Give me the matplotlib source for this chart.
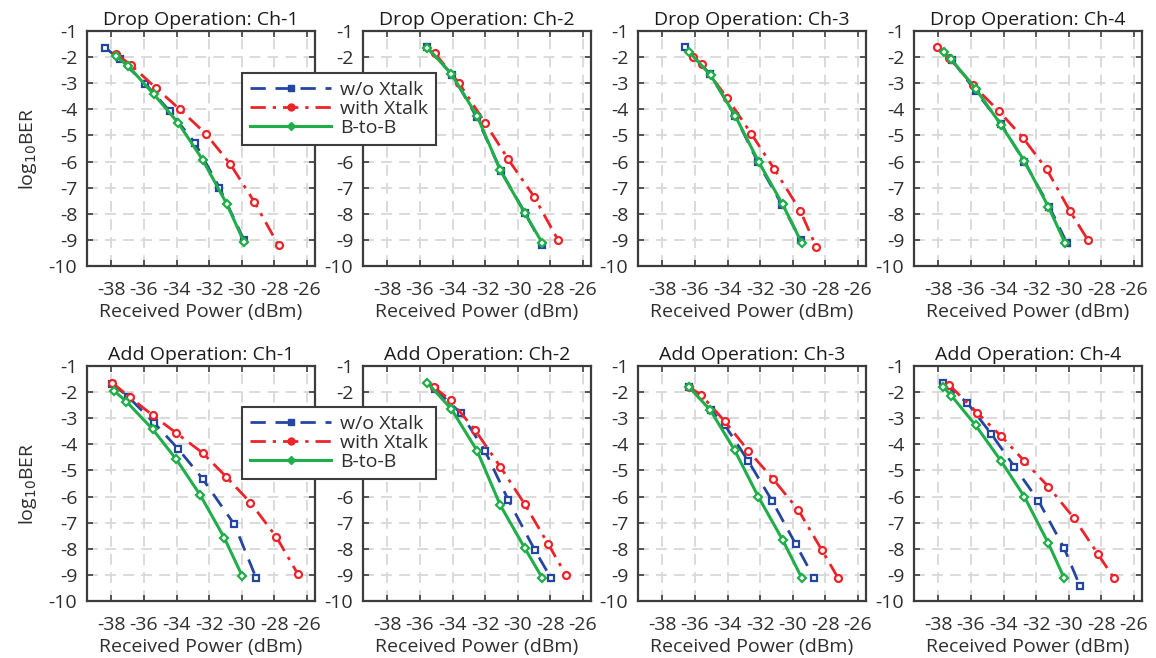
import matplotlib
matplotlib.use("Agg")
import matplotlib.pyplot as plt
from matplotlib.lines import Line2D

plt.rcParams['font.family'] = ['Open Sans', 'DejaVu Sans']
plt.rcParams['axes.unicode_minus'] = False

# ---------------- data (received power dBm, log10 BER) ----------------
# Drop Ch-1
d1_wo_x = [-38.37, -37.49, -35.91, -34.41, -32.87, -31.37, -29.86]
d1_wo_y = [-1.64, -2.09, -3.02, -4.08, -5.29, -7.00, -9.00]
d1_wx_x = [-37.73, -36.77, -35.29, -33.80, -32.22, -30.72, -29.24, -27.74]
d1_wx_y = [-1.87, -2.32, -3.17, -4.00, -4.93, -6.08, -7.53, -9.21]
d1_bb_x = [-37.73, -36.97, -35.39, -33.90, -32.40, -30.92, -29.86]
d1_bb_y = [-1.96, -2.34, -3.43, -4.52, -5.93, -7.62, -9.08]
# Drop Ch-2
d2_wo_x = [-35.60, -34.02, -32.53, -31.03, -29.54, -28.49]
d2_wo_y = [-1.62, -2.67, -4.29, -6.36, -7.98, -9.19]
d2_wx_x = [-35.09, -33.61, -32.00, -30.58, -29.00, -27.51]
d2_wx_y = [-1.85, -2.99, -4.52, -5.92, -7.34, -9.02]
d2_bb_x = [-35.54, -34.08, -32.49, -31.07, -29.56, -28.49]
d2_bb_y = [-1.64, -2.64, -4.26, -6.33, -7.98, -9.12]
# Drop Ch-3
d3_wo_x = [-36.62, -35.09, -33.53, -32.15, -30.66, -29.50]
d3_wo_y = [-1.62, -2.64, -4.26, -6.01, -7.66, -9.00]
d3_wx_x = [-36.15, -35.60, -34.04, -32.55, -31.13, -29.54, -28.55]
d3_wx_y = [-2.00, -2.25, -3.55, -4.93, -6.29, -7.88, -9.28]
d3_bb_x = [-36.35, -35.03, -33.53, -32.09, -30.62, -29.44]
d3_bb_y = [-1.81, -2.70, -4.25, -6.01, -7.64, -9.12]
# Drop Ch-4
d4_wo_x = [-37.19, -35.72, -34.14, -32.72, -31.19, -30.13]
d4_wo_y = [-2.10, -3.30, -4.57, -6.01, -7.73, -9.10]
d4_wx_x = [-38.06, -37.35, -35.87, -34.30, -32.82, -31.35, -29.93, -28.81]
d4_wx_y = [-1.62, -2.03, -3.08, -4.06, -5.08, -6.30, -7.89, -9.02]
d4_bb_x = [-37.65, -37.25, -35.72, -34.14, -32.72, -31.25, -30.24]
d4_bb_y = [-1.81, -2.06, -3.21, -4.61, -5.98, -7.73, -9.10]
# Add Ch-1
a1_wo_x = [-37.96, -36.98, -35.36, -33.91, -32.40, -30.45, -29.12]
a1_wo_y = [-1.68, -2.17, -3.19, -4.17, -5.32, -7.07, -9.11]
a1_wx_x = [-37.96, -36.88, -35.46, -34.01, -32.40, -30.94, -29.47, -27.88, -26.55]
a1_wx_y = [-1.64, -2.19, -2.89, -3.57, -4.33, -5.25, -6.23, -7.54, -8.97]
a1_bb_x = [-37.86, -37.08, -35.46, -34.01, -32.54, -31.07, -29.98]
a1_bb_y = [-1.94, -2.36, -3.43, -4.58, -5.95, -7.58, -9.03]
# Add Ch-2
a2_wo_x = [-35.09, -33.51, -32.00, -30.58, -28.96, -27.98]
a2_wo_y = [-1.87, -2.80, -4.26, -6.13, -8.04, -9.10]
a2_wx_x = [-35.15, -34.12, -32.61, -31.07, -29.56, -28.12, -27.02]
a2_wx_y = [-1.81, -2.32, -3.46, -4.86, -6.30, -7.83, -9.02]
a2_bb_x = [-35.56, -34.08, -32.49, -31.07, -29.56, -28.49]
a2_bb_y = [-1.64, -2.64, -4.25, -6.33, -7.98, -9.12]
# Add Ch-3
a3_wo_x = [-36.35, -35.03, -34.18, -32.72, -31.27, -29.81, -28.69]
a3_wo_y = [-1.81, -2.70, -3.25, -4.65, -6.16, -7.83, -9.12]
a3_wx_x = [-36.35, -35.64, -34.18, -32.72, -31.23, -29.65, -28.22, -27.23]
a3_wx_y = [-1.81, -2.10, -3.11, -4.25, -5.31, -6.52, -8.04, -9.10]
a3_bb_x = [-36.35, -35.05, -33.57, -32.11, -30.62, -29.44]
a3_bb_y = [-1.81, -2.70, -4.22, -6.01, -7.66, -9.12]
# Add Ch-4
a4_wo_x = [-37.70, -36.23, -34.77, -33.33, -31.86, -30.28, -29.32]
a4_wo_y = [-1.66, -2.41, -3.59, -4.86, -6.16, -7.98, -9.41]
a4_wx_x = [-37.35, -35.62, -34.14, -32.74, -31.25, -29.67, -28.20, -27.23]
a4_wx_y = [-1.72, -2.79, -3.69, -4.63, -5.62, -6.83, -8.21, -9.12]
a4_bb_x = [-37.70, -37.21, -35.72, -34.14, -32.72, -31.25, -30.28]
a4_bb_y = [-1.81, -2.13, -3.27, -4.65, -6.01, -7.79, -9.12]

titles = ["Drop Operation: Ch-1", "Drop Operation: Ch-2",
          "Drop Operation: Ch-3", "Drop Operation: Ch-4",
          "Add Operation: Ch-1", "Add Operation: Ch-2",
          "Add Operation: Ch-3", "Add Operation: Ch-4"]
series_names = ["w/o Xtalk", "with Xtalk", "B-to-B"]
xticks = [-38, -36, -34, -32, -30, -28, -26]
yticks = [-1, -2, -3, -4, -5, -6, -7, -8, -9, -10]

panels = [
    (d1_wo_x, d1_wo_y, d1_wx_x, d1_wx_y, d1_bb_x, d1_bb_y),
    (d2_wo_x, d2_wo_y, d2_wx_x, d2_wx_y, d2_bb_x, d2_bb_y),
    (d3_wo_x, d3_wo_y, d3_wx_x, d3_wx_y, d3_bb_x, d3_bb_y),
    (d4_wo_x, d4_wo_y, d4_wx_x, d4_wx_y, d4_bb_x, d4_bb_y),
    (a1_wo_x, a1_wo_y, a1_wx_x, a1_wx_y, a1_bb_x, a1_bb_y),
    (a2_wo_x, a2_wo_y, a2_wx_x, a2_wx_y, a2_bb_x, a2_bb_y),
    (a3_wo_x, a3_wo_y, a3_wx_x, a3_wx_y, a3_bb_x, a3_bb_y),
    (a4_wo_x, a4_wo_y, a4_wx_x, a4_wx_y, a4_bb_x, a4_bb_y),
]

# ---------------- styles ----------------
BLUE = "#2446a0"
RED = "#ee2229"
GREEN = "#1fae49"
SPINE = "#3c3c3c"
TXT = "#2e2e2e"
FS = 14

styles = [
    dict(color=BLUE, ls=(0, (5.5, 3.5)), lw=2.0, marker='s', ms=5, mfc='white', mew=1.6, mec=BLUE),
    dict(color=RED, ls=(0, (5.5, 2.5, 1.2, 2.5)), lw=2.0, marker='o', ms=5, mfc='white', mew=1.6, mec=RED),
    dict(color=GREEN, ls='-', lw=2.2, marker='D', ms=4.5, mfc='white', mew=1.6, mec=GREEN),
]

W, H = 1156, 658
fig = plt.figure(figsize=(W / 100, H / 100), dpi=100)

lefts = [87, 363, 638, 914]
tops = [31, 366]
aw, ah = 228, 235

for i, (title, data) in enumerate(zip(titles, panels)):
    r, c = divmod(i, 4)
    ax = fig.add_axes([lefts[c] / W, 1 - (tops[r] + ah) / H, aw / W, ah / H])
    for k in range(3):
        ax.plot(data[2 * k], data[2 * k + 1], label=series_names[k], **styles[k])
    ax.set_xlim(-39.5, -25.5)
    ax.set_ylim(-10, -1)
    ax.set_xticks(xticks)
    ax.set_yticks(yticks)
    ax.set_xticklabels([str(v) for v in xticks])
    ax.set_yticklabels([str(v) for v in yticks])
    ax.grid(True, color="#d8d8d8", ls=(0, (6, 4)), lw=1.3)
    ax.set_axisbelow(True)
    ax.tick_params(direction='in', top=True, right=True, length=4, width=1.2,
                   colors=SPINE, labelcolor=TXT, labelsize=FS)
    ax.tick_params(axis='x', pad=10.5)
    ax.tick_params(axis='y', pad=7)
    for s in ax.spines.values():
        s.set_color(SPINE)
        s.set_linewidth(1.6)
    ax.set_title(title, fontsize=FS, color="#1a1a1a", pad=4.5)
    ax.set_xlabel("Received Power (dBm)", fontsize=FS, color=TXT, labelpad=3.5)
    if c == 0:
        ax.set_ylabel("log$_{10}$BER", fontsize=FS, color=TXT, labelpad=7)

handles = [Line2D([], [], color=st['color'], ls=st['ls'], lw=st['lw'], marker=st['marker'],
                  ms=st['ms'], mfc=st['color'], mec=st['color']) for st in styles]
for top in [73, 407]:
    leg = fig.legend(handles, series_names, loc='upper left',
                     bbox_to_anchor=(242 / W, 1 - top / H), fontsize=FS,
                     frameon=True, fancybox=False, framealpha=1, edgecolor=SPINE,
                     handlelength=4.2, handletextpad=0.45, borderpad=0.4,
                     labelspacing=0.05, borderaxespad=0)
    leg.get_frame().set_linewidth(1.5)
    for t in leg.get_texts():
        t.set_color(TXT)

fig.savefig("out.png", dpi=100)
